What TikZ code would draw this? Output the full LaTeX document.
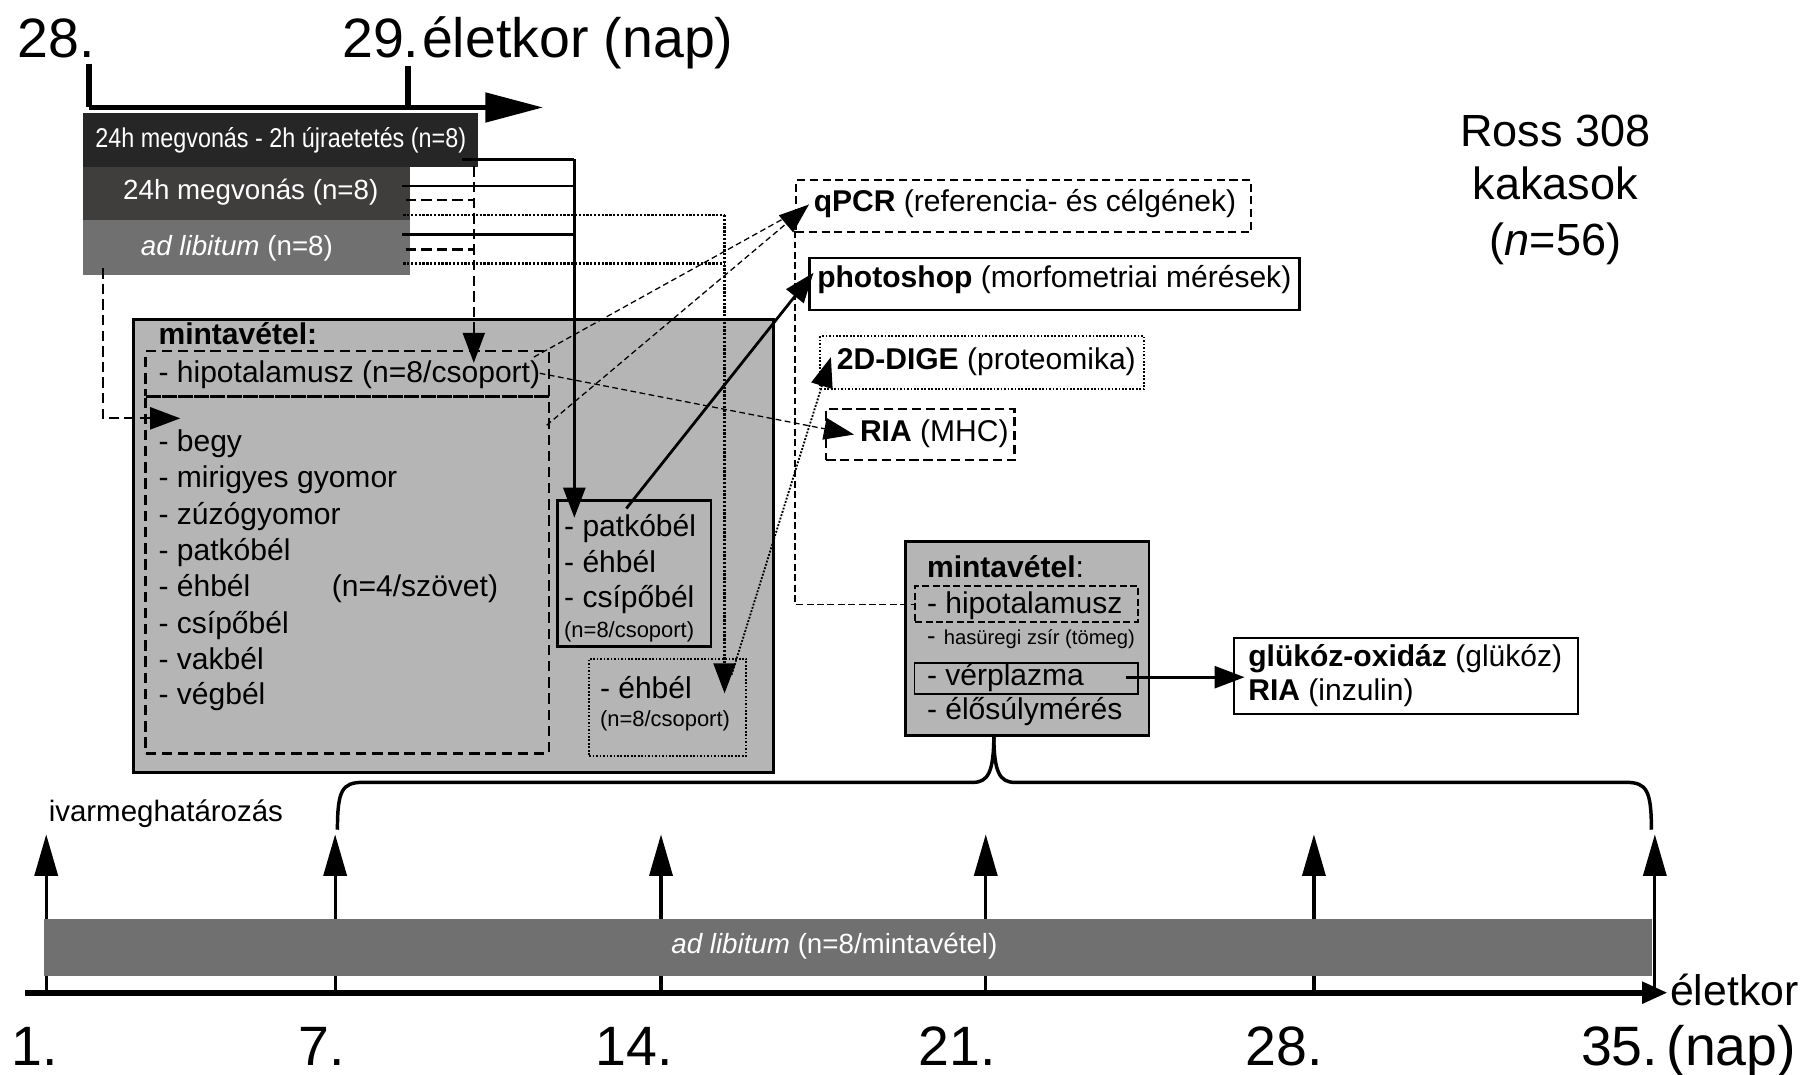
\documentclass[tikz,border=0pt]{standalone}
\usepackage{fontspec}
\setmainfont{Liberation Sans}
\newfontfamily\narrowf[FakeStretch=0.86]{Liberation Sans}
\usetikzlibrary{arrows.meta}
\newcommand{\fsz}[1]{\fontsize{#1}{#1}\selectfont}
\definecolor{barA}{RGB}{38,38,38}
\definecolor{barB}{RGB}{64,61,61}
\definecolor{barC}{RGB}{112,112,112}
\definecolor{boxgray}{RGB}{181,181,181}
\begin{document}
\begin{tikzpicture}[x=1pt,y=-1pt,
  tipA/.style={-{Triangle[length=26pt,width=19pt]}},
  solidc/.style={line width=2.4pt},
  dashc/.style={line width=2pt, dash pattern=on 9pt off 4.5pt},
  dotc/.style={line width=2.3pt, dash pattern=on 2pt off 1.3pt},
  thindash/.style={line width=1.1pt, dash pattern=on 5pt off 3pt},
  boxn/.style={inner sep=0pt, anchor=north west},
  t26/.style={inner sep=0pt, anchor=base west, font={\fsz{26}}},
  t19/.style={inner sep=0pt, anchor=base west, font={\fsz{19}}},
  big/.style={inner sep=0pt, anchor=base west, font={\fsz{48}}},
  ross/.style={inner sep=0pt, anchor=base, font={\fsz{39}}},
  bartext/.style={inner sep=0pt, text=white}
]
\fill[white] (0,0) rectangle (1568,930);
\useasboundingbox (0,0) rectangle (1568,930);

% ---------- top axis ----------
\node[big] (d28a) at (15,50) {28.};
\node[big] (d29a) at (296,50) {29.};
\node[big] (eletA) at (365,50) {életkor (nap)};
\coordinate (ax0) at (77,93);
\coordinate (ax1) at (470,93);
\coordinate (tk1) at (77,55);
\coordinate (tk2a) at (353,57);
\coordinate (tk2b) at (353,93);
\draw[line width=4.5pt] (tk1) -- (ax0);
\draw[line width=4.5pt] (tk2a) -- (tk2b);
\draw[line width=4.5pt, -{Triangle[length=50pt,width=25pt]}] (ax0) -- (ax1);

% ---------- bars ----------
\node[boxn, fill=barA, minimum width=341pt, minimum height=46pt] (bar1) at (72,98) {};
\node[boxn, fill=barB, minimum width=283pt, minimum height=46pt] (bar2) at (72,144) {};
\node[boxn, fill=barC, minimum width=283pt, minimum height=48pt] (bar3) at (72,190) {};
\node[bartext, font={\narrowf\fsz{23.5}}] (bt1) at (243,121) {24h megvonás - 2h újraetetés (n=8)};
\node[bartext, font={\fsz{24}}] (bt2) at (217,166) {24h megvonás (n=8)};
\node[bartext, font={\fsz{24}}] (bt3) at (205,215) {\textit{ad libitum} (n=8)};

% ---------- left sampling box ----------
\node[boxn, draw, fill=boxgray, line width=2.5pt, minimum width=554pt, minimum height=392pt] (lbox) at (114,275) {};
\node[boxn, draw, line width=2pt, dash pattern=on 9pt off 5pt, minimum width=349pt, minimum height=39pt] (hipo) at (125,303) {};
\node[boxn, draw, line width=2pt, dash pattern=on 9pt off 5pt, minimum width=349pt, minimum height=309pt] (list) at (125,342) {};
\node[boxn, draw, line width=2.5pt, minimum width=133pt, minimum height=126pt] (sbox) at (481,432) {};
\node[boxn, draw, line width=1.8pt, dash pattern=on 1.5pt off 1.5pt, minimum width=136pt, minimum height=84pt] (dbox) at (509,569) {};

\node[t26, font={\fsz{26}\bfseries}] (mv1) at (137,298) {mintavétel:};
\node[t26] (hipot) at (137,331) {- hipotalamusz (n=8/csoport)};
\node[t26] (l1) at (137,391) {- begy};
\node[t26] (l2) at (137,422) {- mirigyes gyomor};
\node[t26] (l3) at (137,454) {- zúzógyomor};
\node[t26] (l4) at (137,485) {- patkóbél};
\node[t26] (l5) at (137,516) {- éhbél};
\node[t26] (l5b) at (287,516) {(n=4/szövet)};
\node[t26] (l6) at (137,548) {- csípőbél};
\node[t26] (l7) at (137,579) {- vakbél};
\node[t26] (l8) at (137,610) {- végbél};

\node[t26] (s1) at (488,464.5) {- patkóbél};
\node[t26] (s2) at (488,495) {- éhbél};
\node[t26] (s3) at (488,526) {- csípőbél};
\node[t19] (s4) at (488,552) {(n=8/csoport)};

\node[t26] (e1) at (519,604) {- éhbél};
\node[t19] (e2) at (519,629) {(n=8/csoport)};

% ---------- method boxes ----------
\node[boxn, draw, line width=1.8pt, dash pattern=on 7pt off 4pt, minimum width=394pt, minimum height=45pt] (qpcr) at (688,155) {};
\node[boxn, draw, line width=2.5pt, minimum width=424pt, minimum height=45pt] (photo) at (699,222) {};
\node[boxn, draw, line width=1.8pt, dash pattern=on 1.5pt off 1.5pt, minimum width=280pt, minimum height=46pt] (dige) at (709,290) {};
\node[boxn, draw, line width=2pt, dash pattern=on 8pt off 4pt, minimum width=163pt, minimum height=44pt] (ria) at (714,353) {};
\node[t26] (qt) at (704,183) {\textbf{qPCR} (referencia- és célgének)};
\node[t26] (pt) at (707,249) {\textbf{photoshop} (morfometriai mérések)};
\node[t26] (dt) at (724,320) {\textbf{2D-DIGE} (proteomika)};
\node[t26] (rt) at (744,382) {\textbf{RIA} (MHC)};

% ---------- right sampling box ----------
\node[boxn, draw, fill=boxgray, line width=2.5pt, minimum width=211pt, minimum height=168pt] (rbox) at (782,467) {};
\node[boxn, draw, line width=2pt, dash pattern=on 6pt off 3pt, minimum width=193pt, minimum height=31pt] (rhipo) at (791,506) {};
\node[boxn, draw, line width=1.2pt, minimum width=193pt, minimum height=27pt] (rverp) at (791,573) {};
\node[t26] (r1) at (802,500) {\textbf{mintavétel}:};
\node[t26] (r2) at (802,531) {- hipotalamusz};
\node[t26] (r3) at (802,558) {{\fsz{22}-} {\fsz{17.5}hasüregi zsír (tömeg)}};
\node[t26] (r4) at (802,593) {- vérplazma};
\node[t26] (r5) at (802,623) {- élősúlymérés};

\node[boxn, draw, fill=white, line width=1.6pt, minimum width=298pt, minimum height=66pt] (gbox) at (1067,551) {};
\node[t26] (g1) at (1080,577) {\textbf{glükóz-oxidáz} (glükóz)};
\node[t26] (g2) at (1080,606) {\textbf{RIA} (inzulin)};

% ---------- Ross ----------
\node[ross] (ro1) at (1346,127) {Ross 308};
\node[ross] (ro2) at (1346,173) {kakasok};
\node[ross] (ro3) at (1346,221) {(\textit{n}=56)};

% ---------- connectors from bars ----------
\coordinate (sa1) at (400,138);
\coordinate (sa2) at (348,161);
\coordinate (sa3) at (348,203);
\coordinate (sj1) at (497,138);
\coordinate (sj2) at (497,161);
\coordinate (sj3) at (497,203);
\coordinate (stip) at (497,448);
\draw[solidc] (sa1) -- (sj1);
\draw[solidc] (sa2) -- (sj2);
\draw[solidc] (sa3) -- (sj3);
\draw[solidc, tipA] (sj1) -- (stip);

\coordinate (da2) at (351,173);
\coordinate (da3) at (351,216);
\coordinate (dj2) at (410,173);
\coordinate (dj3) at (410,216);
\coordinate (dtop) at (410,144);
\coordinate (dtip) at (410,314);
\draw[dashc] (da2) -- (dj2);
\draw[dashc] (da3) -- (dj3);
\draw[dashc, tipA] (dtop) -- (dtip);

\coordinate (oa2) at (349,186);
\coordinate (oa3) at (349,228);
\coordinate (oj2) at (627,186);
\coordinate (oj3) at (627,228);
\coordinate (otip) at (627,600);
\draw[dotc] (oa2) -- (oj2);
\draw[dotc] (oa3) -- (oj3);
\draw[dotc, tipA] (oj2) -- (otip);

\coordinate (la) at (89,232);
\coordinate (lb) at (89,362);
\coordinate (ltip) at (156,362);
\draw[dashc, tipA] (la) -- (lb) -- (ltip);

% ---------- connectors to methods ----------
\coordinate (qa) at (462,309);
\coordinate (qb) at (473,368);
\coordinate (qtip) at (700,177);
\draw[thindash] (qa) -- (qtip);
\draw[thindash, tipA] (qb) -- (qtip);

\coordinate (ra) at (467,323);
\coordinate (rtip) at (739,376);
\draw[thindash, tipA] (ra) -- (rtip);

\coordinate (pa) at (542,440);
\coordinate (ptip) at (704,236);
\draw[solidc, tipA] (pa) -- (ptip);

\coordinate (ga) at (633,584);
\coordinate (gtip) at (719,309);
\draw[line width=1.6pt, dash pattern=on 1.6pt off 1.4pt, tipA] (ga) -- (gtip);

\coordinate (qv1) at (688,200);
\coordinate (qv2) at (688,523);
\coordinate (qv3) at (791,523);
\draw[line width=1.2pt, dash pattern=on 6pt off 3pt] (qv1) -- (qv2) -- (qv3);

\coordinate (va) at (974,586);
\coordinate (vtip) at (1077,586);
\draw[solidc, tipA] (va) -- (vtip);

% ---------- brace ----------
\coordinate (brL) at (292,718);
\coordinate (brR) at (1429,718);
\coordinate (brT) at (860,636);
\draw[line width=3pt] (brL) .. controls (292,684) and (296,677) .. (314,677) -- (842,677) .. controls (855,677) and (860,668) .. (brT);
\draw[line width=3pt] (brR) .. controls (1429,684) and (1425,677) .. (1407,677) -- (878,677) .. controls (865,677) and (860,668) .. (brT);

% ---------- timeline ----------
\node[inner sep=0pt, anchor=base west, font={\fsz{25.5}}] (ivar) at (42,711) {ivarmeghatározás};
\foreach \xx [count=\i] in {40,290,572,853,1137,1432} {
  \coordinate (tb\i) at (\xx,859);
  \coordinate (tt\i) at (\xx,722);
  \draw[line width=2.8pt, -{Triangle[length=36pt,width=20pt]}] (tb\i) -- (tt\i);
}
\node[boxn, fill=barC, minimum width=1391pt, minimum height=49pt] (libbar) at (38,795) {};
\node[bartext, font={\fsz{24}}] (libt) at (722,819) {\textit{ad libitum} (n=8/mintavétel)};
\coordinate (bx0) at (22,859);
\coordinate (bx1) at (1443,859);
\draw[line width=5pt, -{Triangle[length=22pt,width=18pt]}] (bx0) -- (bx1);
\node[inner sep=0pt, anchor=base west, font={\fsz{37}}] (eletB) at (1445,870) {életkor};
\node[big] (n1) at (10,922) {1.};
\node[big] (n7) at (258,922) {7.};
\node[big] (n14) at (515,922) {14.};
\node[big] (n21) at (795,922) {21.};
\node[big] (n28) at (1078,922) {28.};
\node[big] (n35) at (1368,922) {35.};
\node[big] (nap) at (1442,922) {(nap)};
\end{tikzpicture}
\end{document}
